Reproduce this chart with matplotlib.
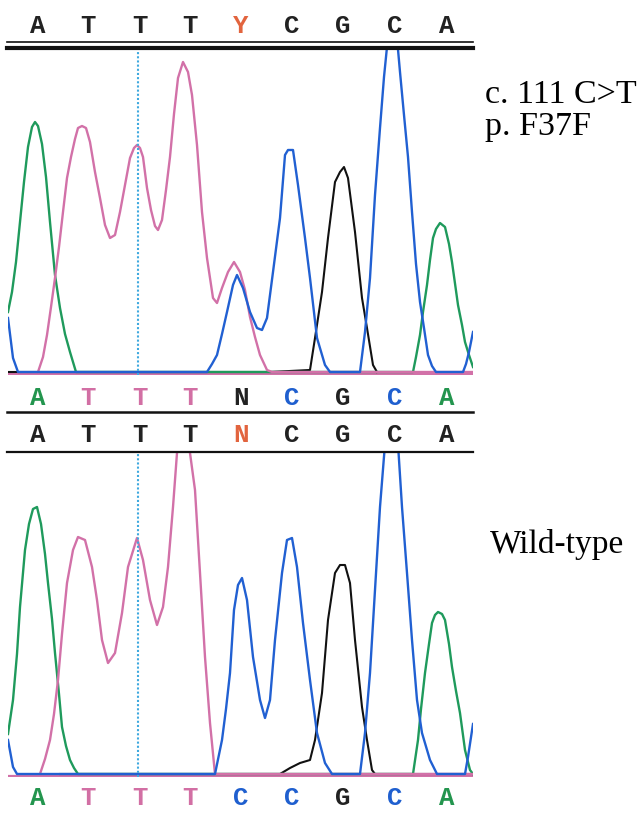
import matplotlib.pyplot as plt
from matplotlib.lines import Line2D
from matplotlib.transforms import blended_transform_factory

W, H = 642, 814

# base calls
base_pos = [38, 88, 140, 190, 241, 292, 343, 395, 447]
calls_top = ['A', 'T', 'T', 'T', 'Y', 'C', 'G', 'C', 'A']
calls_mid1 = ['A', 'T', 'T', 'T', 'N', 'C', 'G', 'C', 'A']
calls_mid2 = ['A', 'T', 'T', 'T', 'N', 'C', 'G', 'C', 'A']
calls_bot = ['A', 'T', 'T', 'T', 'C', 'C', 'G', 'C', 'A']
cursor_pos = 138

# mutant trace (c.111 C>T), intensity vs scan position
mut_a_x = [8, 12, 16, 20, 24, 28, 32, 35, 38, 42, 46, 50, 55, 60, 65, 70, 76,
           413, 416, 420, 423, 427, 430, 433, 436, 440, 445, 449, 452, 458, 462, 465, 469, 473]
mut_a = [60, 80, 110, 150, 190, 225, 245, 250, 246, 228, 195, 150, 97, 64, 38, 20, 0,
         0, 15, 37, 60, 87, 112, 134, 143, 149, 145, 128, 110, 67, 47, 30, 17, 5]
mut_c_x = [8, 13, 18, 207, 212, 217, 222, 227, 233, 237, 243, 250, 257, 262, 267, 273, 280,
           285, 288, 293, 298, 305, 310, 317, 325, 330, 360, 365, 370, 375, 380, 384, 388,
           392, 396, 400, 404, 408, 412, 416, 420, 424, 428, 432, 436, 463, 466, 469, 473]
mut_c = [54, 14, 0, 0, 8, 17, 38, 60, 87, 97, 84, 60, 44, 42, 54, 100, 154,
         217, 222, 222, 187, 134, 94, 34, 7, 0, 0, 40, 94, 177, 244, 295, 335,
         360, 345, 300, 257, 215, 160, 108, 70, 44, 17, 6, 0, 0, 8, 20, 40]
mut_g_x = [8, 270, 310, 315, 322, 328, 335, 340, 344, 348, 355, 362, 367, 373, 377]
mut_g = [0, 0, 2, 34, 80, 134, 190, 200, 205, 194, 140, 74, 44, 7, 0]
mut_t_x = [38, 43, 47, 51, 55, 59, 63, 67, 71, 75, 78, 82, 86, 90, 95, 100, 105, 110,
           115, 120, 125, 130, 134, 137, 140, 143, 147, 151, 155, 158, 162, 166, 170,
           174, 178, 183, 188, 192, 197, 202, 207, 213, 217, 222, 228, 234, 240, 245,
           250, 255, 260, 267, 272, 473]
mut_t = [0, 15, 37, 65, 94, 125, 160, 194, 215, 233, 244, 246, 244, 230, 200, 174, 147, 134,
         137, 160, 187, 214, 224, 227, 224, 215, 184, 162, 146, 142, 152, 182, 215,
         258, 294, 310, 300, 277, 227, 160, 114, 74, 69, 84, 100, 110, 100, 82,
         55, 35, 17, 2, 0, 0]

# wild-type trace
wt_a_x = [8, 13, 17, 20, 25, 29, 33, 37, 41, 45, 48, 52, 55, 59, 62, 66, 70, 74, 78,
          413, 418, 421, 425, 429, 432, 435, 438, 442, 445, 449, 452, 456, 460, 465, 470, 473]
wt_a = [40, 74, 120, 167, 224, 250, 265, 267, 250, 220, 191, 155, 121, 80, 47, 28, 14, 6, 0,
        0, 34, 65, 101, 130, 151, 159, 162, 160, 154, 130, 107, 83, 61, 24, 4, 0]
wt_c_x = [8, 13, 17, 215, 222, 226, 230, 234, 238, 242, 247, 253, 260, 265, 270, 275,
          282, 287, 292, 297, 303, 310, 317, 325, 332, 360, 365, 370, 375, 380, 385,
          391, 398, 402, 407, 412, 417, 422, 430, 437, 465, 468, 473]
wt_c = [34, 7, 0, 0, 34, 65, 101, 164, 189, 196, 174, 117, 74, 56, 74, 134,
        201, 234, 236, 207, 151, 94, 41, 11, 0, 0, 41, 101, 184, 267, 330,
        360, 330, 267, 201, 134, 74, 41, 14, 0, 0, 17, 50]
wt_g_x = [60, 280, 290, 300, 310, 315, 322, 328, 335, 340, 345, 350, 355, 362, 367, 372, 375, 473]
wt_g = [0, 0, 6, 11, 14, 34, 81, 154, 201, 209, 209, 191, 134, 67, 34, 4, 0, 0]
wt_t_x = [40, 45, 50, 54, 58, 62, 67, 73, 78, 85, 92, 97, 102, 108, 115, 122, 128, 137,
          143, 150, 157, 163, 168, 173, 177, 183, 190, 195, 200, 205, 210, 215, 473]
wt_t = [0, 15, 34, 60, 94, 140, 191, 224, 237, 234, 207, 174, 134, 111, 121, 161, 207, 236,
        214, 174, 149, 167, 207, 267, 321, 360, 321, 284, 201, 117, 51, 0, 0]

GREEN = '#1f9a5c'
BLUE = '#2160d2'
PINK = '#d271a8'
BLACK = '#111111'
RED = '#e2643e'
base_color = {'A': '#23954e', 'T': '#d26fa4', 'C': '#1f5fcf', 'G': '#222222', 'N': '#222222'}

fig = plt.figure(figsize=(W / 100, H / 100), dpi=100)


def fx(px):
    return px / W


def fy(py):
    return 1 - py / H


def hline(py, lw):
    fig.add_artist(Line2D([fx(7), fx(473)], [fy(py), fy(py)], color='#111111', lw=lw))


def trace_axes(top_px, bottom_px, ymax):
    ax = fig.add_axes([fx(8), fy(bottom_px), (473 - 8) / W, (bottom_px - top_px) / H])
    ax.set_xlim(8, 473)
    ax.set_ylim(-3, ymax)
    ax.axis('off')
    return ax


def draw_trace(ax, a, c, g, t):
    ax.axhline(-2, color=PINK, lw=1.6)
    ax.plot(*g, color=BLACK, lw=1.5)
    ax.plot(*a, color=GREEN, lw=1.7)
    ax.plot(*t, color=PINK, lw=1.7)
    ax.plot(*c, color=BLUE, lw=1.7)
    ax.axvline(cursor_pos, color='#3fa9df', lw=1.5, ls=(0, (1, 1)))


def draw_calls(ax, calls, py, colors=None):
    tr = blended_transform_factory(ax.transData, fig.transFigure)
    for x, b in zip(base_pos, calls):
        if colors is None:
            col = base_color[b]
        else:
            col = colors.get(b, '#222222')
        fig.text(x, fy(py), b, transform=tr, ha='center', va='baseline',
                 family='Liberation Mono', weight='bold', fontsize=18.5, color=col)


ax1 = trace_axes(48, 375, 324)
draw_trace(ax1, (mut_a_x, mut_a), (mut_c_x, mut_c), (mut_g_x, mut_g), (mut_t_x, mut_t))
ax2 = trace_axes(452, 777, 322)
draw_trace(ax2, (wt_a_x, wt_a), (wt_c_x, wt_c), (wt_g_x, wt_g), (wt_t_x, wt_t))

hline(42, 1.2)
hline(48, 3.0)
hline(412, 1.8)
hline(452, 1.6)

draw_calls(ax1, calls_top, 33, {'Y': RED})
draw_calls(ax1, calls_mid1, 405)
draw_calls(ax2, calls_mid2, 442, {'N': RED})
draw_calls(ax2, calls_bot, 805)

serif = 'Liberation Serif'
fig.text(fx(485), fy(103), 'c. 111 C>T', family=serif, fontsize=24.5, va='baseline', ha='left')
fig.text(fx(485), fy(135), 'p. F37F', family=serif, fontsize=24.5, va='baseline', ha='left')
fig.text(fx(490), fy(553), 'Wild-type', family=serif, fontsize=24, va='baseline', ha='left')

fig.savefig('out.png', dpi=100)
